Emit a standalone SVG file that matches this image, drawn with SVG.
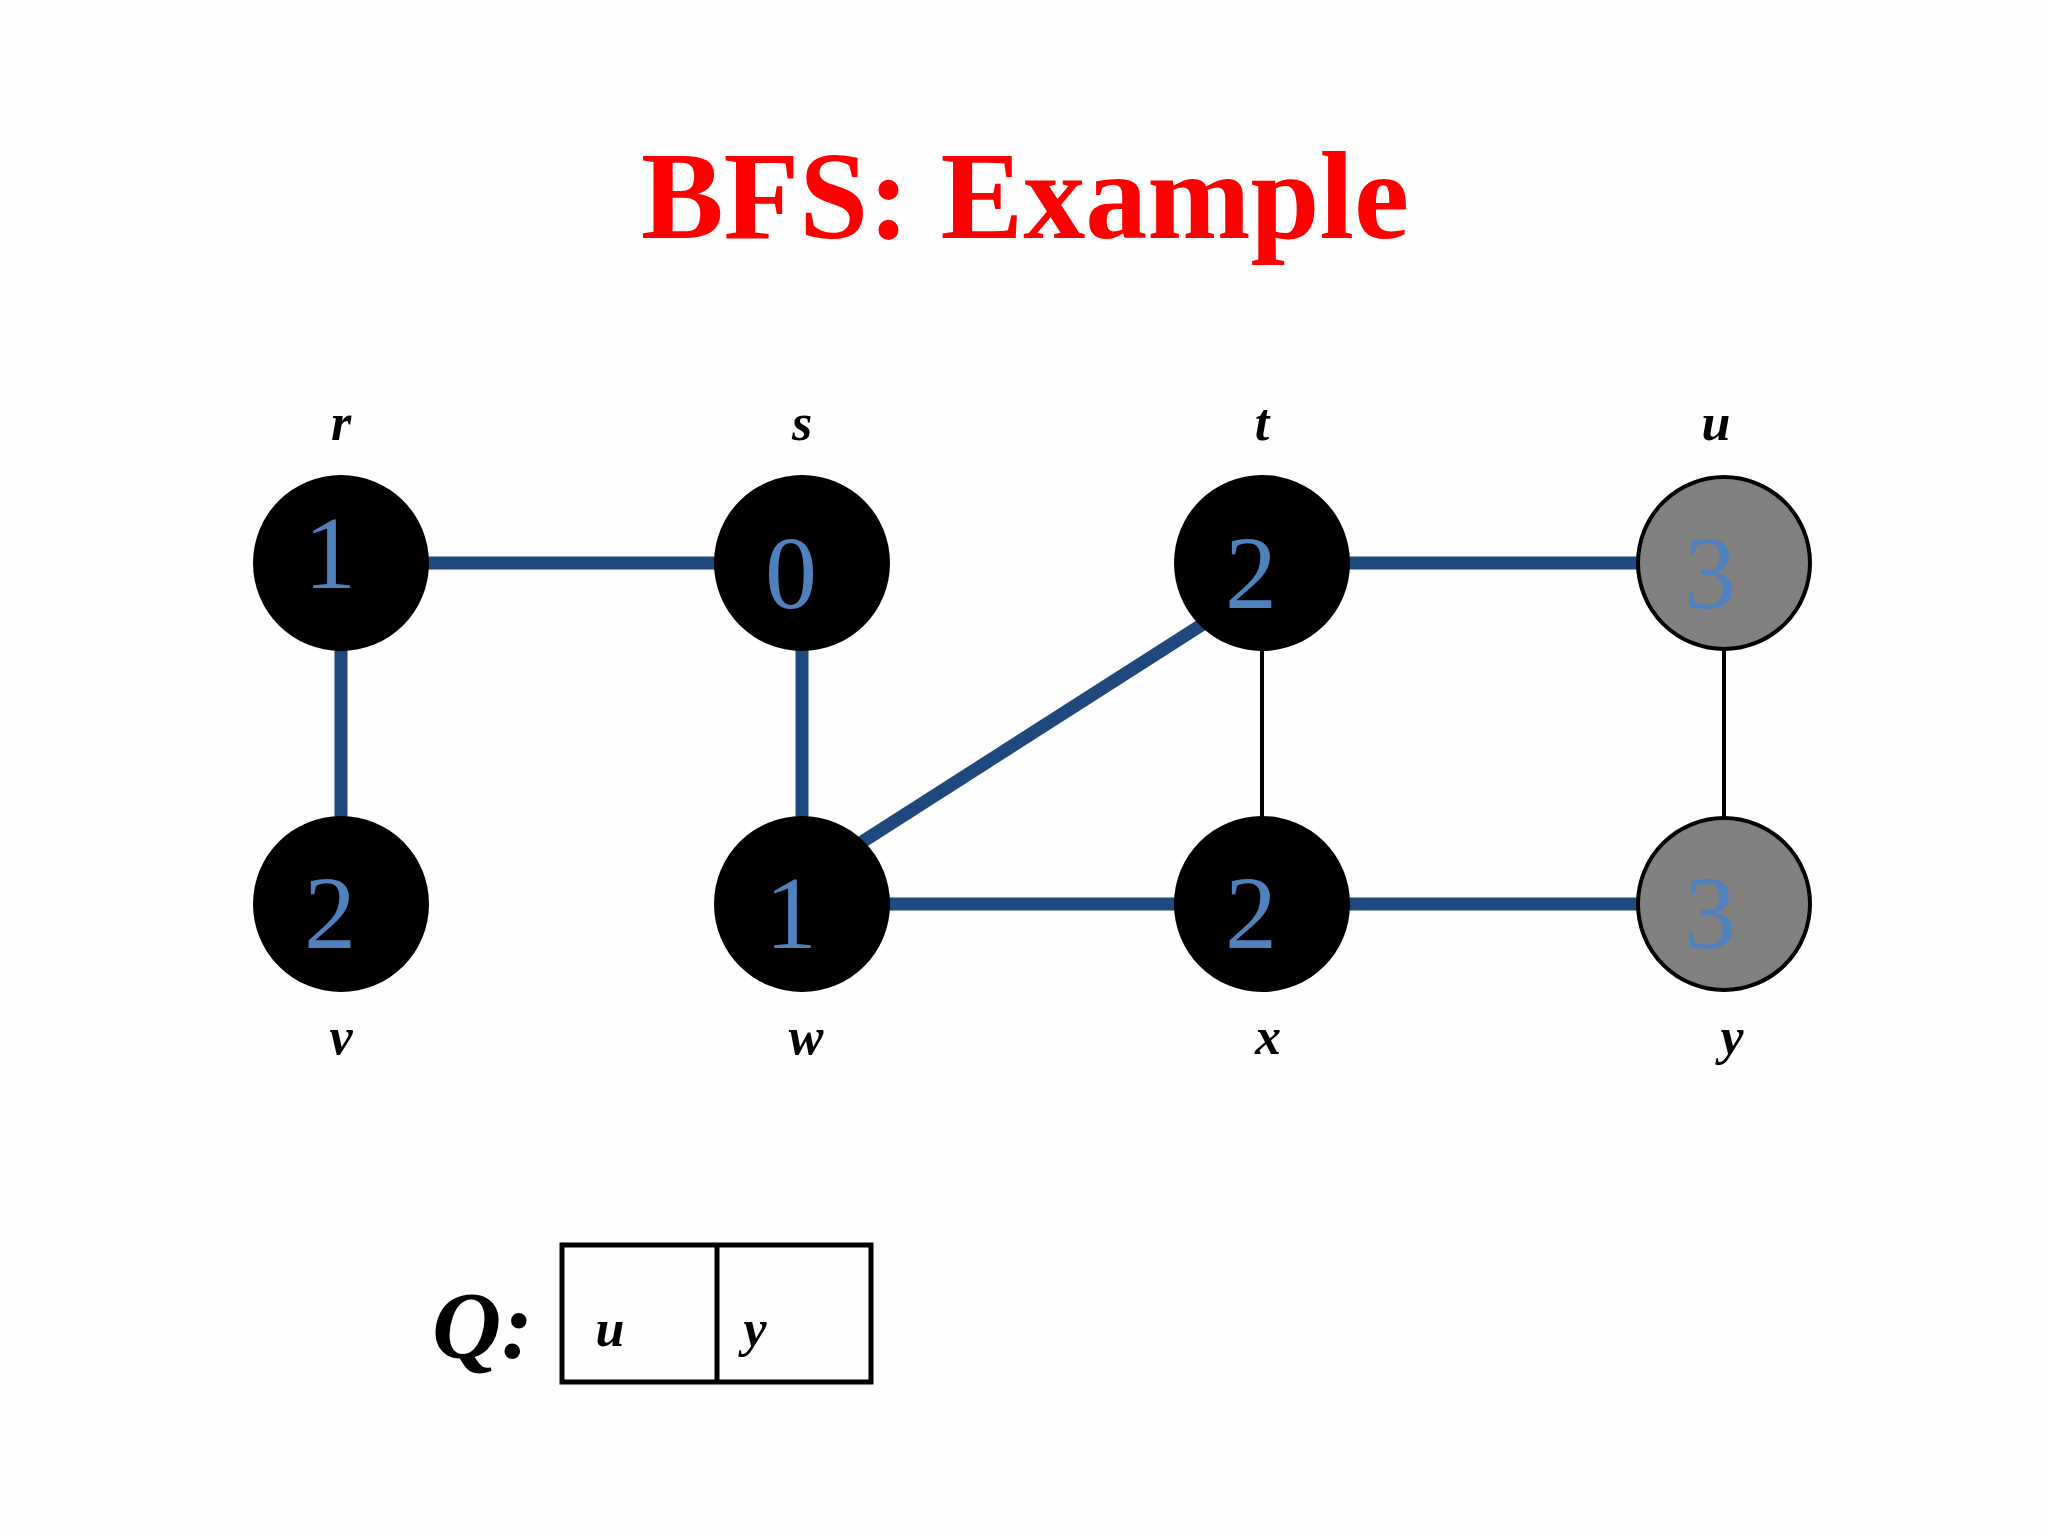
<svg xmlns="http://www.w3.org/2000/svg" width="2048" height="1536" viewBox="0 0 2048 1536">
<style>
.t{fill:#ff0000;font-family:"Liberation Serif",serif;font-weight:bold;font-size:124px}
.n{fill:#4f81bd;font-family:"Liberation Serif",serif;font-size:104px;text-anchor:middle}
.l{fill:#000;font-family:"Liberation Serif",serif;font-style:italic;font-weight:bold;font-size:52px;text-anchor:middle}
.e{stroke:#1f497d;stroke-width:13}
.k{stroke:#000;stroke-width:4}
.b{fill:#000}
.g{fill:#808080;stroke:#000;stroke-width:4}
</style>
<rect width="2048" height="1536" fill="#fefefe"/>
<text class="t" x="1025" y="238" text-anchor="middle">BFS: Example</text>
<g id="edges">
<line class="e" x1="341" y1="563" x2="802" y2="563"/>
<line class="e" x1="341" y1="563" x2="341" y2="904"/>
<line class="e" x1="802" y1="563" x2="802" y2="904"/>
<line class="e" x1="1262" y1="563" x2="1724" y2="563"/>
<line class="e" x1="862" y1="842" x2="1203" y2="624"/>
<line class="e" x1="802" y1="904" x2="1262" y2="904"/>
<line class="e" x1="1262" y1="904" x2="1724" y2="904"/>
<line class="k" x1="1262" y1="563" x2="1262" y2="904"/>
<line class="k" x1="1724" y1="563" x2="1724" y2="904"/>
</g>
<g id="r"><circle class="b" cx="341" cy="563" r="88"/><text class="n" x="330" y="588">1</text><text class="l" x="341" y="440">r</text></g>
<g id="s"><circle class="b" cx="802" cy="563" r="88"/><text class="n" x="791" y="608">0</text><text class="l" x="802" y="440">s</text></g>
<g id="t"><circle class="b" cx="1262" cy="563" r="88"/><text class="n" x="1251" y="608">2</text><text class="l" x="1262" y="440">t</text></g>
<g id="u"><circle class="g" cx="1724" cy="563" r="86"/><text class="n" x="1710" y="608">3</text><text class="l" x="1716" y="440">u</text></g>
<g id="v"><circle class="b" cx="341" cy="904" r="88"/><text class="n" x="330" y="948">2</text><text class="l" x="341" y="1054">v</text></g>
<g id="w"><circle class="b" cx="802" cy="904" r="88"/><text class="n" x="791" y="948">1</text><text class="l" x="806" y="1054">w</text></g>
<g id="x"><circle class="b" cx="1262" cy="904" r="88"/><text class="n" x="1251" y="948">2</text><text class="l" x="1268" y="1054">x</text></g>
<g id="y"><circle class="g" cx="1724" cy="904" r="86"/><text class="n" x="1710" y="948">3</text><text class="l" x="1732" y="1054">y</text></g>
<g id="queue">
<text x="432" y="1358" font-family="Liberation Serif,serif" font-style="italic" font-weight="bold" font-size="96">Q:</text>
<rect x="562" y="1245" width="309" height="137" fill="none" stroke="#000" stroke-width="5"/>
<line x1="717" y1="1245" x2="717" y2="1382" stroke="#000" stroke-width="5"/>
<text class="l" x="610" y="1346" font-size="84" font-weight="normal">u</text>
<text class="l" x="755" y="1346" font-size="84" font-weight="normal">y</text>
</g>
</svg>
